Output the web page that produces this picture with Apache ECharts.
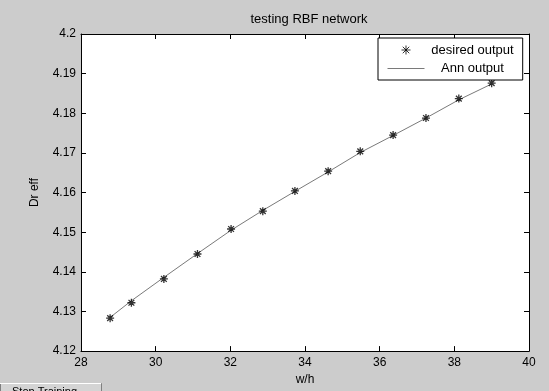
<!DOCTYPE html>
<html>
<head>
<meta charset="utf-8">
<script src="https://cdn.jsdelivr.net/npm/echarts@6/dist/echarts.min.js"></script>
<style>
  html, body { margin: 0; padding: 0; background: #cccccc; }
  #chart { width: 549px; height: 391px; }
</style>
</head>
<body>
<div id="chart"></div>
<script>
// w/h values of the test points
const widthHeight = [28.78, 29.35, 30.22, 31.12, 32.02, 32.87, 33.73, 34.62, 35.48, 36.36, 37.24, 38.12, 39.0];
// desired output (Dr eff)
const desired = [4.1283, 4.1322, 4.1382, 4.1445, 4.1508, 4.1553, 4.1604, 4.1654, 4.1704, 4.1745, 4.1788, 4.1837, 4.1876];
// ANN output (Dr eff)
const annOutput = [4.1285, 4.1327, 4.1386, 4.1446, 4.1505, 4.1555, 4.1603, 4.1652, 4.1701, 4.1744, 4.1788, 4.1834, 4.1874];

const font = 'Liberation Sans';
const star = 'path://M0,-5L0,5M-5,0L5,0M-3.6,-3.6L3.6,3.6M-3.6,3.6L3.6,-3.6';

const chart = echarts.init(document.getElementById('chart'));

const axisCommon = {
  axisLine: { show: true, onZero: false, lineStyle: { color: '#000', width: 1 } },
  axisTick: { show: true, inside: true, length: 5, lineStyle: { color: '#000' } },
  splitLine: { show: false }
};

const option = {
  animation: false,
  backgroundColor: '#cccccc',
  textStyle: { fontFamily: font },
  title: {
    text: 'testing RBF network',
    left: 304,
    top: 8,
    textAlign: 'center',
    textStyle: { fontFamily: font, fontSize: 13, fontWeight: 'normal', color: '#000' }
  },
  grid: { left: 81, top: 34, width: 448, height: 325, backgroundColor: '#fff', show: true, borderWidth: 0 },
  legend: {
    orient: 'vertical',
    left: 378,
    top: 38,
    padding: [5, 9, 5, 9],
    itemGap: 5,
    itemWidth: 37,
    itemHeight: 9,
    backgroundColor: '#fff',
    borderColor: '#000',
    borderWidth: 1,
    formatter: '{t|{name}}',
    textStyle: {
      fontFamily: font, fontSize: 13, color: '#000',
      rich: { t: { width: 86, align: 'center', fontSize: 13, fontFamily: font, color: '#000' } }
    },
    data: [
      { name: 'desired output', icon: star, itemStyle: { color: 'none', borderColor: '#000', borderWidth: 1 } },
      { name: 'Ann output', itemStyle: { opacity: 0 }, lineStyle: { width: 1, color: '#7a7a7a' } }
    ]
  },
  xAxis: [
    Object.assign({
      type: 'value', min: 28, max: 40, interval: 2,
      name: 'w/h', nameLocation: 'middle', nameGap: 22,
      nameTextStyle: { fontFamily: font, fontSize: 12, color: '#000' },
      axisLabel: { color: '#000', fontSize: 12, fontFamily: font, margin: 6 }
    }, axisCommon),
    Object.assign({
      type: 'value', min: 28, max: 40, interval: 2, position: 'top',
      axisLabel: { show: false }
    }, axisCommon)
  ],
  yAxis: [
    Object.assign({
      type: 'value', min: 4.12, max: 4.2, interval: 0.01,
      name: 'Dr eff', nameLocation: 'middle', nameGap: 40, nameRotate: 90,
      nameTextStyle: { fontFamily: font, fontSize: 12, color: '#000' },
      axisLabel: {
        color: '#000', fontSize: 12, fontFamily: font, margin: 5,
        formatter: v => String(parseFloat(v.toFixed(2)))
      }
    }, axisCommon),
    Object.assign({
      type: 'value', min: 4.12, max: 4.2, interval: 0.01, position: 'right',
      axisLabel: { show: false }
    }, axisCommon)
  ],
  series: [
    {
      name: 'desired output',
      type: 'scatter',
      symbol: star,
      symbolSize: 8,
      itemStyle: { color: 'none', borderColor: '#000', borderWidth: 1.3 },
      data: widthHeight.map((x, i) => [x, desired[i]]),
      z: 3
    },
    {
      name: 'Ann output',
      type: 'line',
      showSymbol: false,
      symbol: 'none',
      lineStyle: { color: '#7a7a7a', width: 1 },
      itemStyle: { color: '#7a7a7a' },
      data: widthHeight.map((x, i) => [x, annOutput[i]]),
      z: 2
    }
  ],
  graphic: [
    {
      type: 'rect', left: 0, top: 383,
      shape: { width: 101, height: 14 },
      style: { fill: '#d4d4d4', stroke: '#808080', lineWidth: 1 }
    },
    {
      type: 'line',
      shape: { x1: 0, y1: 383.5, x2: 101, y2: 383.5 },
      style: { stroke: '#fff', lineWidth: 1 }
    },
    {
      type: 'text', left: 12, top: 386,
      style: { text: 'Stop Training', fill: '#000', font: '11px "Liberation Sans"' }
    }
  ]
};

chart.setOption(option);
</script>
</body>
</html>
